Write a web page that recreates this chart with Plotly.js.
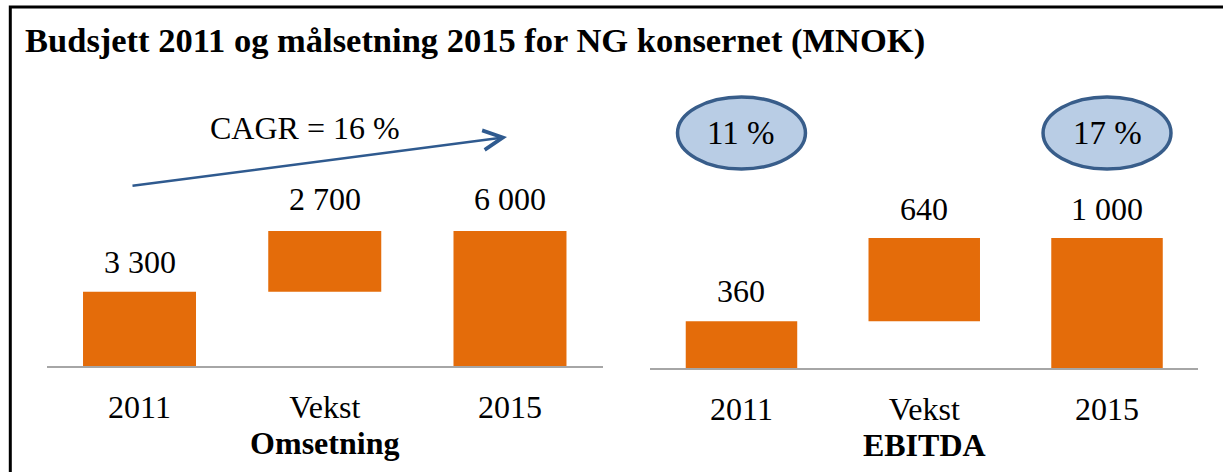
<!DOCTYPE html>
<html>
<head>
<meta charset="utf-8">
<script src="https://cdn.plot.ly/plotly-3.0.1.min.js"></script>
<style>html,body{margin:0;padding:0;background:#fff;}#chart{width:1223px;height:472px;}</style>
</head>
<body>
<div id="chart"></div>
<script>
const categories = ['2011', 'Vekst', '2015'];
const measures = ['absolute', 'relative', 'total'];
const omsetning = [3300, 2700, 6000];
const ebitda = [360, 640, 1000];
const marginLabels = ['11 %', '17 %'];
const marginCategories = ['2011', '2015'];
const cagrLabel = 'CAGR = 16 %';
const panelTitles = ['Omsetning', 'EBITDA'];
const chartTitle = 'Budsjett 2011 og målsetning 2015 for NG konsernet (MNOK)';

const W = 1223, H = 472;
const FONT = '"Liberation Serif", "Times New Roman", serif';
const ORANGE = '#E46C0A';

function fmt(n) { return String(n).replace(/\B(?=(\d{3})+(?!\d))/g, ' '); }
function tops(vals) {
  let run = 0;
  return vals.map((v, i) => {
    if (measures[i] === 'absolute') { run = v; return v; }
    if (measures[i] === 'relative') { run += v; return run; }
    return run;
  });
}

function wf(vals, xa, ya) {
  return {
    type: 'waterfall', x: categories, y: vals, measure: measures,
    xaxis: xa, yaxis: ya,
    connector: {visible: false},
    increasing: {marker: {color: ORANGE, line: {width: 0}}},
    decreasing: {marker: {color: ORANGE, line: {width: 0}}},
    totals: {marker: {color: ORANGE, line: {width: 0}}},
    textinfo: 'none', hoverinfo: 'skip'
  };
}

const data = [wf(omsetning, 'x', 'y'), wf(ebitda, 'x2', 'y2')];

const annotations = [];
[[omsetning, 'x', 'y', [30, 32, 32]], [ebitda, 'x2', 'y2', [30, 29, 29]]].forEach(([vals, xa, ya, shifts]) => {
  const t = tops(vals);
  categories.forEach((c, i) => {
    annotations.push({
      x: i, y: t[i], xref: xa, yref: ya, text: fmt(vals[i]),
      showarrow: false, xanchor: 'center', yanchor: 'middle', yshift: shifts[i],
      font: {family: FONT, size: 32, color: '#000'}
    });
  });
});

annotations.push({
  x: 305 / W, y: 1 - 128 / H, xref: 'paper', yref: 'paper', text: cagrLabel,
  showarrow: false, xanchor: 'center', yanchor: 'middle',
  font: {family: FONT, size: 32, color: '#000'}
});
annotations.push({
  x: 507 / W, y: 1 - 137 / H, xref: 'paper', yref: 'paper', text: '',
  showarrow: true, axref: 'pixel', ayref: 'pixel', ax: -376, ay: 49,
  arrowhead: 5, arrowsize: 1.6, arrowwidth: 2.4, arrowcolor: '#2F5A8F'
});

const shapes = [{
  type: 'rect', xref: 'paper', yref: 'paper',
  x0: 10.3 / W, x1: 1.05, y0: -0.1, y1: 1 - 7 / H,
  line: {color: '#000', width: 3}, fillcolor: 'rgba(0,0,0,0)'
}];

marginLabels.forEach((lab, k) => {
  const idx = categories.indexOf(marginCategories[k]);
  shapes.push({
    type: 'circle', xref: 'x2', yref: 'paper',
    x0: idx - 0.35, x1: idx + 0.35, y0: 1 - 169 / H, y1: 1 - 97 / H,
    fillcolor: '#B9CDE5', line: {color: '#385D8A', width: 3.5}
  });
  annotations.push({
    x: idx, y: 1 - 133 / H, xref: 'x2', yref: 'paper', text: lab,
    showarrow: false, xanchor: 'center', yanchor: 'middle',
    font: {family: FONT, size: 33, color: '#000'}
  });
});

function xax(domain, title, anchor) {
  return {
    domain: domain, anchor: anchor, type: 'category', range: [-0.5, 2.5],
    showline: true, linecolor: '#A6A6A6', linewidth: 2,
    ticks: 'outside', ticklen: 12, tickcolor: 'rgba(0,0,0,0)',
    tickfont: {family: FONT, size: 32, color: '#000'},
    showgrid: false, zeroline: false, fixedrange: true,
    title: {text: '<b>' + title + '</b>', standoff: 2, font: {family: FONT, size: 32, color: '#000'}}
  };
}

const layout = {
  width: W, height: H,
  margin: {l: 0, r: 0, t: 0, b: 0},
  paper_bgcolor: '#fff', plot_bgcolor: 'rgba(0,0,0,0)',
  showlegend: false,
  waterfallgap: 0.39,
  title: {
    text: '<b>' + chartTitle + '</b>', xref: 'container', yref: 'container',
    x: 25 / W, xanchor: 'left', y: 1 - 40 / H, yanchor: 'middle',
    font: {family: FONT, size: 34.5, color: '#000'}
  },
  xaxis: xax([46.9 / W, 602.6 / W], panelTitles[0], 'y'),
  yaxis: {domain: [(H - 366) / H, (H - 231) / H], range: [0, 6000], visible: false, fixedrange: true},
  xaxis2: xax([650.1 / W, 1198.4 / W], panelTitles[1], 'y2'),
  yaxis2: {domain: [(H - 368) / H, (H - 238) / H], range: [0, 1000], visible: false, fixedrange: true, anchor: 'x2'},
  annotations: annotations,
  shapes: shapes
};

Plotly.newPlot('chart', data, layout, {displayModeBar: false, staticPlot: true});
</script>
</body>
</html>
